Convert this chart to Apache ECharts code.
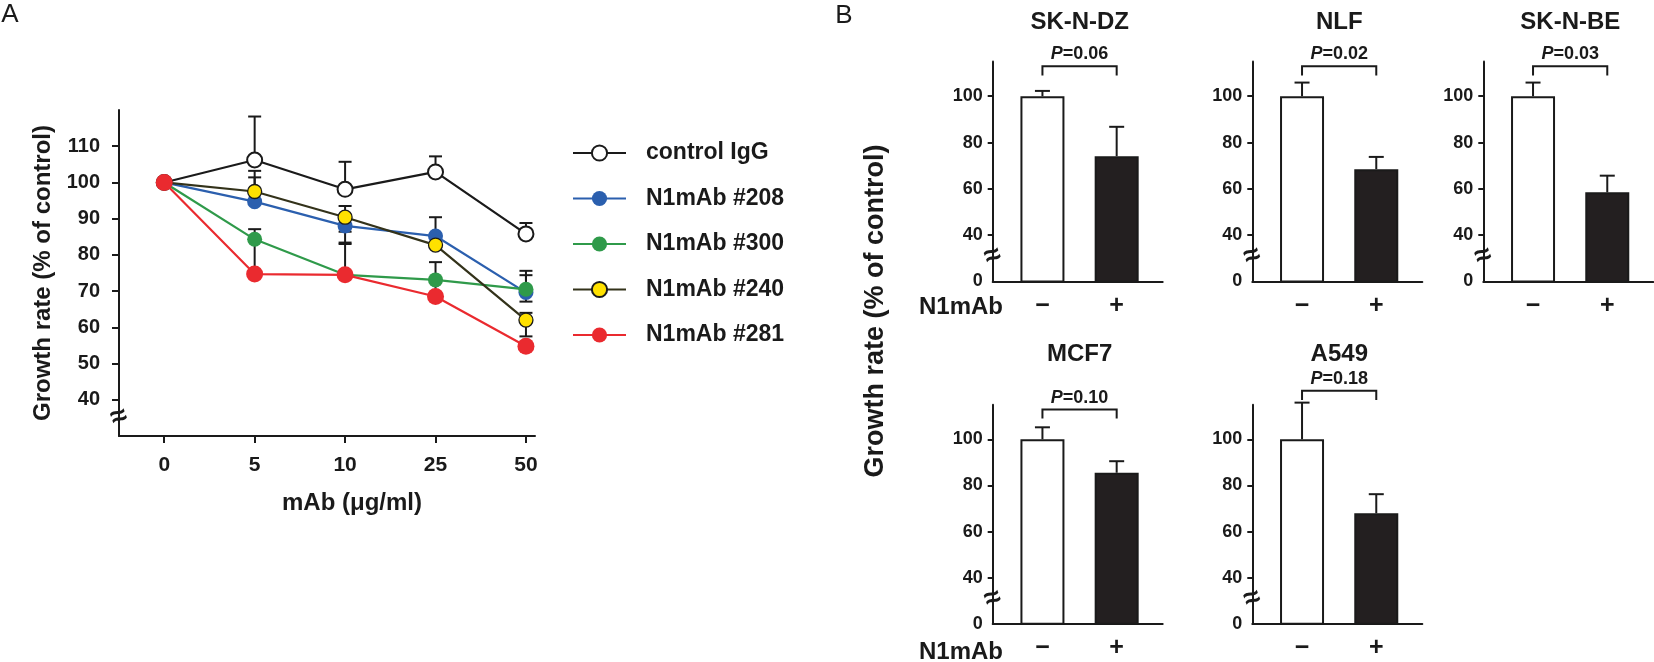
<!DOCTYPE html>
<html>
<head>
<meta charset="utf-8">
<script src="https://cdn.jsdelivr.net/npm/echarts@6.0.0/dist/echarts.min.js"></script>
<style>
  html, body { margin: 0; background: #fff; }
  #main { width: 1654px; height: 662px; }
</style>
</head>
<body>
<div id="main"></div>
<script>
// ---------- panel A: growth vs antibody dose ----------
var doses = ['0', '5', '10', '25', '50'];
var seriesNames = ['control IgG', 'N1mAb #208', 'N1mAb #300', 'N1mAb #240', 'N1mAb #281'];
var ctrlIgG = [100, 106.2, 98.1, 102.9, 85.8];
var mab208 = [100, 94.7, 88.0, 85.2, 69.6];
var mab300 = [100, 84.3, 74.5, 73.1, 70.5];
var mab240 = [100, 97.5, 90.4, 82.7, 62.0];
var mab281 = [100, 74.7, 74.5, 68.5, 54.8];
// error bar end points (null = no bar)
var ctrlUp = [null, 118.2, 105.7, 107.2, 88.8];
var mab208Up = [null, 103.2, null, 90.4, 75.6];
var mab208Down = [null, null, 86.4, null, 67.1];
var mab300Up = [null, 87.1, 83.0, 78.0, 74.4];
var mab300Down = [null, 75.5, null, null, null];
var mab240Up = [null, 101.4, 93.5, null, 64.0];
var mab240Down = [null, null, 83.4, null, 57.5];
var mab281Up = [null, null, null, 73.0, null];

// ---------- panel B: single dose per cell line ----------
var cellLines = ['SK-N-DZ', 'NLF', 'SK-N-BE', 'MCF7', 'A549'];
var treatLabels = ['\u2212', '+'];
var ctrlMean = [100, 100, 100, 100, 100];
var ctrlErr = [102.3, 105.9, 105.9, 105.2, 115.9];
var mabMean = [74.1, 68.5, 58.5, 85.5, 67.9];
var mabErr = [86.8, 73.8, 65.7, 90.5, 76.2];
var pValues = ['0.06', '0.02', '0.03', '0.10', '0.18'];
var bracketTop = [112.9, 112.9, 112.9, 112.9, 121];
var bracketLeg = [109, 109, 109, 109, 117];

var FONT = "'Liberation Sans', Arial, Helvetica, sans-serif";
var INK = '#1a1a1a';

var myChart = echarts.init(document.getElementById('main'));

function errBar(half) {
    return function (params, api) {
        var x = api.value(0);
        var p0 = api.coord([x, api.value(1)]);
        var p1 = api.coord([x, api.value(2)]);
        return {
            type: 'group',
            children: [
                { type: 'line', shape: { x1: p0[0], y1: p0[1], x2: p1[0], y2: p1[1] }, style: { stroke: INK, lineWidth: 2 } },
                { type: 'line', shape: { x1: p1[0] - half, y1: p1[1], x2: p1[0] + half, y2: p1[1] }, style: { stroke: INK, lineWidth: 2 } }
            ]
        };
    };
}

function renderBreak(params, api) {
    var p = api.coord([api.value(0), api.value(1)]);
    return {
        type: 'text', x: p[0], y: p[1], rotation: 0.35,
        style: { text: '\u2248', fontSize: 29, fontWeight: 'bold', fontFamily: FONT, fill: INK, align: 'center', verticalAlign: 'middle' }
    };
}

function bracket(k) {
    return function (params, api) {
        var l = api.coord([api.value(0), api.value(2)]);
        var r = api.coord([api.value(1), api.value(2)]);
        var leg = api.coord([api.value(0), api.value(3)])[1];
        return {
            type: 'group',
            children: [
                { type: 'polyline', shape: { points: [[l[0], leg], [l[0], l[1]], [r[0], r[1]], [r[0], leg]] },
                  style: { stroke: INK, lineWidth: 2, fill: 'none' } },
                { type: 'text', x: (l[0] + r[0]) / 2, y: l[1] - 3,
                  style: { text: '{i|P}=' + pValues[k], align: 'center', verticalAlign: 'bottom',
                           fontSize: 18, fontWeight: 'bold', fontFamily: FONT, fill: INK,
                           rich: { i: { fontStyle: 'italic', fontSize: 18, fontWeight: 'bold', fontFamily: FONT, fill: INK } } } }
            ]
        };
    };
}

function pts(arr) {
    return arr.map(function (v, i) { return [i, v]; });
}
function errData(means, ends) {
    var out = [];
    ends.forEach(function (e, i) { if (e !== null) out.push([i, means[i], e]); });
    return out;
}

// grids: 0 = panel A, 1..5 = panel B
var grids = [
    { left: 119, top: 110, width: 416, height: 326 },
    { left: 992.7, top: 61.5, width: 170, height: 220 },
    { left: 1252.3, top: 61.5, width: 170, height: 220 },
    { left: 1483.3, top: 61.5, width: 170, height: 220 },
    { left: 992.7, top: 404.7, width: 170, height: 219.1 },
    { left: 1252.3, top: 404.7, width: 170, height: 219.1 }
];

var axisLine = { show: true, onZero: false, lineStyle: { color: INK, width: 2 } };

var xAxes = [{
    gridIndex: 0, type: 'value', min: -0.5, max: 4.1,
    axisLine: axisLine, splitLine: { show: false },
    axisTick: { show: true, length: 7, customValues: [0, 1, 2, 3, 4], lineStyle: { color: INK, width: 2 } },
    axisLabel: { customValues: [0, 1, 2, 3, 4], margin: 19, formatter: function (v) { return doses[v]; },
                 color: INK, fontSize: 21, fontWeight: 'bold', fontFamily: FONT }
}];
var yAxes = [{
    gridIndex: 0, type: 'value', min: 30, max: 120,
    name: 'Growth rate (% of control)', nameLocation: 'middle', nameGap: 64,
    nameTextStyle: { color: INK, fontSize: 24, fontWeight: 'bold', fontFamily: FONT },
    axisLine: axisLine, splitLine: { show: false },
    axisTick: { show: true, length: 7, customValues: [40, 50, 60, 70, 80, 90, 100, 110], lineStyle: { color: INK, width: 2 } },
    axisLabel: { customValues: [40, 50, 60, 70, 80, 90, 100, 110], margin: 19,
                 color: INK, fontSize: 20, fontWeight: 'bold', fontFamily: FONT }
}];

var lineColors = [INK, '#2b5fae', '#2f9a4a', '#33321a', '#ea2a2f'];
var fillColors = ['#ffffff', '#2b5fae', '#2f9a4a', '#ffe100', '#ea2a2f'];
var lineData = [ctrlIgG, mab208, mab300, mab240, mab281];

var series = [];
var errA = [].concat(
    errData(ctrlIgG, ctrlUp), errData(mab208, mab208Up), errData(mab208, mab208Down),
    errData(mab300, mab300Up), errData(mab300, mab300Down),
    errData(mab240, mab240Up), errData(mab240, mab240Down), errData(mab281, mab281Up));
series.push({
    type: 'custom', xAxisIndex: 0, yAxisIndex: 0, z: 1, clip: false,
    renderItem: errBar(6.5), data: errA, encode: { x: 0, y: [1, 2] }, silent: true
});
lineData.forEach(function (d, i) {
    var bordered = (i === 0 || i === 3);
    series.push({
        name: seriesNames[i], type: 'line', xAxisIndex: 0, yAxisIndex: 0, z: 3 + i,
        data: pts(d), symbol: 'circle',
        symbolSize: i === 4 ? 17 : (i === 3 ? 14 : 15),
        lineStyle: { color: lineColors[i], width: 2.2 },
        itemStyle: { color: fillColors[i], borderColor: bordered ? INK : fillColors[i], borderWidth: bordered ? (i === 0 ? 2 : 1.3) : 0, opacity: 1 },
        emphasis: { disabled: true }
    });
});
series.push({
    type: 'custom', xAxisIndex: 0, yAxisIndex: 0, z: 10, clip: false,
    renderItem: renderBreak, data: [[-0.5, 35.2]], silent: true
});

cellLines.forEach(function (name, k) {
    var g = k + 1;
    xAxes.push({
        gridIndex: g, type: 'value', min: -0.67, max: 1.62,
        axisLine: axisLine, splitLine: { show: false }, axisTick: { show: false },
        axisLabel: { customValues: [0, 1], margin: 12, formatter: function (v) { return treatLabels[v]; },
                     color: INK, fontSize: 25, fontWeight: 'bold', fontFamily: FONT }
    });
    yAxes.push({
        gridIndex: g, type: 'value', min: 20, max: 115,
        axisLine: axisLine, splitLine: { show: false },
        axisTick: { show: true, length: 5, customValues: [40, 60, 80, 100], lineStyle: { color: INK, width: 2 } },
        axisLabel: { customValues: [20, 40, 60, 80, 100], margin: 10,
                     formatter: function (v) { return v === 20 ? '0' : String(v); },
                     color: INK, fontSize: 18, fontWeight: 'bold', fontFamily: FONT }
    });
    series.push({
        type: 'bar', xAxisIndex: g, yAxisIndex: g, barWidth: 44, z: 2,
        data: [
            { value: [0, ctrlMean[k]], itemStyle: { color: '#ffffff' } },
            { value: [1, mabMean[k]], itemStyle: { color: '#231f20' } }
        ],
        itemStyle: { borderColor: INK, borderWidth: 2 },
        emphasis: { disabled: true }, silent: true
    });
    series.push({
        type: 'custom', xAxisIndex: g, yAxisIndex: g, z: 3, clip: false,
        renderItem: errBar(7.5), encode: { x: 0, y: [1, 2] }, silent: true,
        data: [[0, ctrlMean[k], ctrlErr[k]], [1, mabMean[k], mabErr[k]]]
    });
    series.push({
        type: 'custom', xAxisIndex: g, yAxisIndex: g, z: 3, clip: false,
        renderItem: bracket(k), encode: { x: [0, 1], y: [2, 3] }, silent: true,
        data: [[0, 1, bracketTop[k], bracketLeg[k]]]
    });
    series.push({
        type: 'custom', xAxisIndex: g, yAxisIndex: g, z: 10, clip: false,
        renderItem: renderBreak, data: [[-0.67, 30.9]], silent: true
    });
});

function label(text, x, y, size, weight, extra) {
    var el = {
        type: 'text', x: x, y: y, silent: true,
        style: { text: text, fontSize: size, fontWeight: weight, fontFamily: FONT, fill: INK, align: 'center', verticalAlign: 'middle' }
    };
    if (extra) { for (var key in extra) el[key] = extra[key]; }
    return el;
}

var graphics = [
    label('A', 10, 15, 26, 'normal'),
    label('B', 844, 16, 26, 'normal'),
    label('mAb (\u03bcg/ml)', 352, 503, 24, 'bold'),
    label('Growth rate (% of control)', 876, 311, 27, 'bold', { rotation: Math.PI / 2 })
];
var titleY = [22, 22, 22, 354, 354];
cellLines.forEach(function (name, k) {
    graphics.push(label(name, grids[k + 1].left + 87, titleY[k], 24, 'bold'));
});
[307, 652].forEach(function (y) {
    var t = label('N1mAb', 1003, y, 24, 'bold');
    t.style.align = 'right';
    graphics.push(t);
});

myChart.setOption({
    animation: false,
    grid: grids,
    xAxis: xAxes,
    yAxis: yAxes,
    legend: {
        orient: 'vertical', left: 567, top: 135,
        itemWidth: 53, itemHeight: 19, itemGap: 19.5,
        data: seriesNames,
        textStyle: { color: INK, fontSize: 23, fontWeight: 'bold', fontFamily: FONT, lineHeight: 26, padding: [0, 0, 0, 15] },
        selectedMode: false
    },
    graphic: graphics,
    series: series
});
</script>
</body>
</html>
